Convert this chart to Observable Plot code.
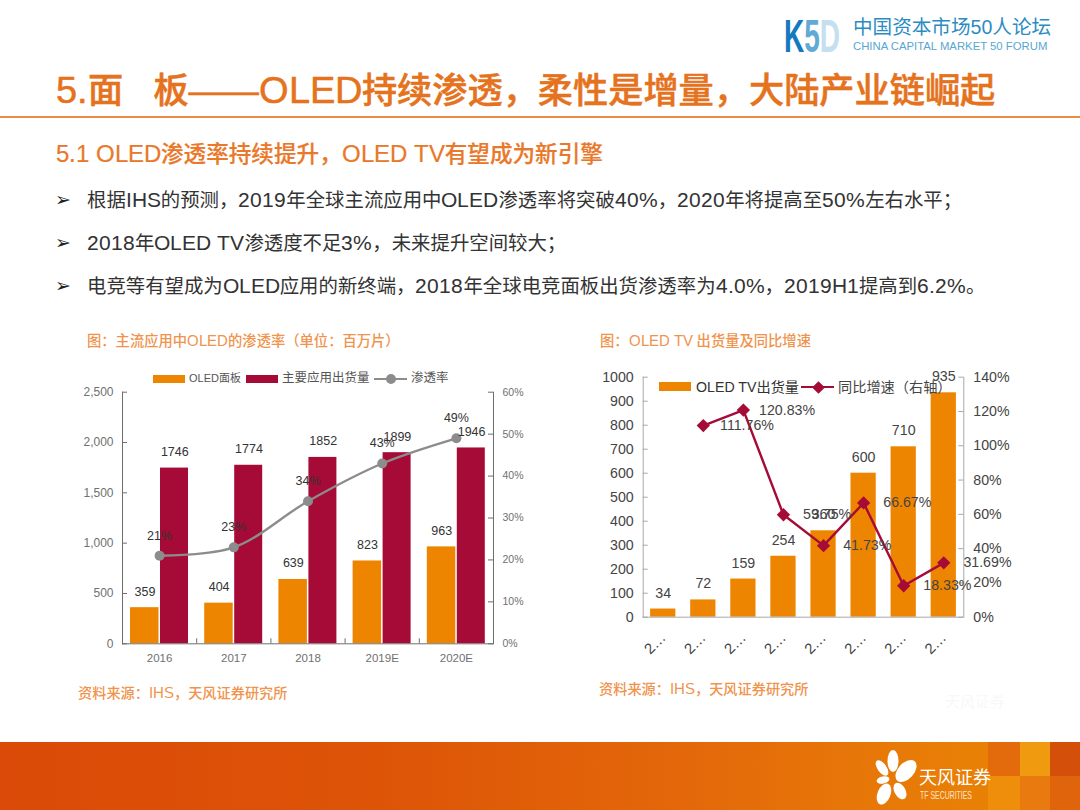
<!DOCTYPE html>
<html lang="zh">
<head>
<meta charset="utf-8">
<script src="https://cdn.jsdelivr.net/npm/d3@7"></script>
<script src="https://cdn.jsdelivr.net/npm/@observablehq/plot@0.6"></script>
<style>
  @font-face{font-family:"LatinBig";src:local("Liberation Sans");size-adjust:107%;unicode-range:U+0020-007E;}
  html,body{margin:0;padding:0;background:#fff;}
  #slide{position:relative;width:1080px;height:810px;overflow:hidden;background:#fff;
    font-family:"Liberation Sans","Noto Sans CJK SC",sans-serif;}
  .t{position:absolute;white-space:pre;line-height:1;}
  .big{font-family:"LatinBig","Liberation Sans","Noto Sans CJK SC",sans-serif;}
  .chart{position:absolute;}
  .chart svg{overflow:visible;background:transparent;display:block;}
  .sw{position:absolute;}
  .block{position:absolute;}
</style>
</head>
<body>
<div id="slide">
  <svg class="block" style="left:784px;top:6px" width="70" height="56">
    <text transform="translate(0,46) scale(1,1.65)" x="0" y="0" font-size="28" font-weight="700" font-family="Liberation Sans"><tspan fill="#1479bf">K</tspan><tspan fill="#63a9d6">5</tspan><tspan fill="#c3dff0">D</tspan></text>
  </svg>
  <div class="t" style="left:853px;top:18px;font-size:19.6px;color:#2c8cc2;">中国资本市场50人论坛</div>
  <div class="t" style="left:853px;top:41px;font-size:11.3px;color:#5aa6cf;letter-spacing:0.02px;">CHINA CAPITAL MARKET 50 FORUM</div>

  <div class="t big" style="left:56px;top:73px;font-size:35.2px;font-weight:500;color:#e5721c;-webkit-text-stroke:0.5px #e5721c;">5.面<span style="letter-spacing:-5px;">　</span>板——OLED持续渗透，柔性是增量，大陆产业链崛起</div>
  <div class="block" style="left:0;top:116px;width:1080px;height:2px;background:#e98a47;"></div>
  <div class="t big" style="left:56px;top:143px;font-size:22.6px;font-weight:500;color:#e9782a;-webkit-text-stroke:0.2px #e9782a;">5.1 OLED渗透率持续提升，OLED TV有望成为新引擎</div>

  <div class="t" style="left:55px;top:190px;font-size:19px;color:#222;font-family:'DejaVu Sans';">➢</div>
  <div class="t big" style="left:87px;top:190px;font-size:19.4px;color:#333;">根据IHS的预测，2019年全球主流应用中OLED渗透率将突破40%，2020年将提高至50%左右水平；</div>
  <div class="t" style="left:55px;top:233px;font-size:19px;color:#222;font-family:'DejaVu Sans';">➢</div>
  <div class="t big" style="left:87px;top:233px;font-size:19.4px;color:#333;">2018年OLED TV渗透度不足3%，未来提升空间较大；</div>
  <div class="t" style="left:55px;top:276px;font-size:19px;color:#222;font-family:'DejaVu Sans';">➢</div>
  <div class="t big" style="left:87px;top:276px;font-size:19.4px;color:#333;">电竞等有望成为OLED应用的新终端，2018年全球电竞面板出货渗透率为4.0%，2019H1提高到6.2%。</div>

  <div class="t big" style="left:87px;top:334px;font-size:14.3px;font-weight:500;color:#f0934c;">图：主流应用中OLED的渗透率（单位：百万片）</div>
  <div class="t big" style="left:600px;top:334px;font-size:14.3px;font-weight:500;color:#f0934c;">图：OLED TV 出货量及同比增速</div>

  <div id="left" class="chart" style="left:60px;top:360px;"></div>
  <div id="right" class="chart" style="left:580px;top:360px;"></div>

  <!-- left legend -->
  <div class="sw" style="left:153px;top:375px;width:32px;height:8px;background:#ee8500;"></div>
  <div class="t" style="left:189px;top:373px;font-size:11px;color:#555;">OLED面板</div>
  <div class="sw" style="left:246px;top:375px;width:32px;height:8px;background:#a50b36;"></div>
  <div class="t" style="left:282px;top:372px;font-size:12.5px;color:#555;">主要应用出货量</div>
  <div class="sw" style="left:374px;top:378px;width:33px;height:2px;background:#8c8c8c;"></div>
  <div class="sw" style="left:386px;top:374px;width:10px;height:10px;border-radius:50%;background:#8c8c8c;"></div>
  <div class="t" style="left:411px;top:372px;font-size:12.5px;color:#555;">渗透率</div>

  <!-- right legend -->
  <div class="sw" style="left:659px;top:382px;width:32px;height:9px;background:#ee8500;"></div>
  <div class="t" style="left:696px;top:380px;font-size:14.2px;color:#333;">OLED TV出货量</div>
  <div class="sw" style="left:801px;top:386px;width:33px;height:2px;background:#a50b36;"></div>
  <div class="sw" style="left:813.5px;top:382.5px;width:9px;height:9px;transform:rotate(45deg);background:#a50b36;"></div>
  <div class="t" style="left:838px;top:380px;font-size:14.2px;color:#444;">同比增速（右轴）</div>

  <div class="t big" style="left:78px;top:686px;font-size:14.2px;font-weight:500;color:#f0934c;">资料来源：IHS，天风证券研究所</div>
  <div class="t big" style="left:599px;top:682px;font-size:14.2px;font-weight:500;color:#f0934c;">资料来源：IHS，天风证券研究所</div>

  <!-- watermark -->
  <div class="t" style="left:945px;top:694px;font-size:15px;color:#f8f8f8;">天风证券</div>

  <!-- footer band -->
  <div class="block" style="left:0;top:742px;width:1080px;height:68px;background:linear-gradient(90deg,#db4a08 0%,#dd5407 35%,#e4690a 65%,#e98006 90%,#ea8306 100%);"></div>
  <div class="block" style="left:988px;top:742px;width:32px;height:34px;background:#e46b0c;"></div>
  <div class="block" style="left:1020px;top:742px;width:30px;height:34px;background:#f09a10;"></div>
  <div class="block" style="left:1050px;top:742px;width:30px;height:34px;background:#d4500a;"></div>
  <div class="block" style="left:988px;top:776px;width:32px;height:34px;background:#ef8e0a;"></div>
  <div class="block" style="left:1020px;top:776px;width:30px;height:34px;background:#e87a10;"></div>
  <div class="block" style="left:1050px;top:776px;width:30px;height:34px;background:#df640c;"></div>
  <svg class="block" style="left:870px;top:745px" width="50" height="65">
    <g fill="#fff" transform="translate(-870,-745)">
      <ellipse cx="893" cy="761" rx="5.5" ry="11"/>
      <ellipse cx="906" cy="771" rx="8" ry="13" transform="rotate(42 906 771)"/>
      <ellipse cx="882" cy="768" rx="4.5" ry="9" transform="rotate(-35 882 768)"/>
      <ellipse cx="883" cy="780" rx="6.5" ry="3.5" transform="rotate(-12 883 780)"/>
      <ellipse cx="884" cy="794" rx="6.5" ry="11" transform="rotate(22 884 794)"/>
      <ellipse cx="900" cy="791" rx="5.5" ry="9" transform="rotate(-30 900 791)"/>
    </g>
  </svg>
  <div class="t" style="left:919px;top:769px;font-size:18px;color:#fff;">天风证券</div>
  <div class="t" style="left:920px;top:790px;font-size:10.5px;color:#fde3c8;transform:scaleX(0.66);transform-origin:left top;">TF SECURITIES</div>
</div>

<script>
// Left chart data
const years = ["2016", "2017", "2018", "2019E", "2020E"];
const oledPanels = [359, 404, 639, 823, 963];
const mainShipments = [1746, 1774, 1852, 1899, 1946];
const penetration = [21, 23, 34, 43, 49];
const leftTicks = [0, 500, 1000, 1500, 2000, 2500];
const penetrationTicks = [0, 10, 20, 30, 40, 50, 60];

// Right chart data
const tvPeriods = ["P1", "P2", "P3", "P4", "P5", "P6", "P7", "P8"];
const tvLabels = ["2…", "2…", "2…", "2…", "2…", "2…", "2…", "2…"];
const tvShipments = [34, 72, 159, 254, 360, 600, 710, 935];
const tvGrowth = [null, 111.76, 120.83, 59.75, 41.73, 66.67, 18.33, 31.69];
const tvTicks = [0, 100, 200, 300, 400, 500, 600, 700, 800, 900, 1000];
const growthTicks = [0, 20, 40, 60, 80, 100, 120, 140];

const ORANGE = "#ee8500", MAROON = "#a50b36", GRAY = "#8c8c8c";
const FONT = "'Liberation Sans','Noto Sans CJK SC',sans-serif";

// Left chart
{
  const W = 480, H = 310, mL = 62, mR = 47, mT = 31.7, mB = 26.7;
  const toLeft = p => p / 60 * 2500;
  const rows = years.map((year, i) => ({year, oled: oledPanels[i], main: mainShipments[i], rate: penetration[i]}));
  const band = (W - mL - mR) / years.length;
  const axisStroke = "#6e6e6e";
  const chart = Plot.plot({
    width: W, height: H, marginLeft: mL, marginRight: mR, marginTop: mT, marginBottom: mB,
    style: {fontFamily: FONT, background: "transparent", overflow: "visible"},
    x: {domain: years, padding: 0, round: false, label: null},
    y: {domain: [0, 2500], label: null},
    marks: [
      Plot.barY(rows, {x: "year", y: "oled", fill: ORANGE, insetLeft: 8, insetRight: band - 36.5}),
      Plot.barY(rows, {x: "year", y: "main", fill: MAROON, insetLeft: 38, insetRight: 8.2}),
      Plot.axisY({ticks: leftTicks, tickSize: 0, tickPadding: 9, tickFormat: d3.format(","), fontSize: 12, color: "#707070", label: null}),
      Plot.tickY(leftTicks, {y: d => d, stroke: axisStroke, insetRight: W - mL - mR - 5}),
      Plot.axisY({anchor: "right", ticks: penetrationTicks.map(toLeft), tickSize: 0, tickPadding: 9,
        tickFormat: v => Math.round(v / 2500 * 60) + "%", fontSize: 10.5, color: "#707070", label: null}),
      Plot.tickY(penetrationTicks.map(toLeft), {y: d => d, stroke: axisStroke, insetLeft: W - mL - mR - 5}),
      Plot.axisX({tickSize: 0, tickPadding: 10, fontSize: 11.5, color: "#707070", label: null}),
      Plot.ruleX(years.slice(0, -1), {x: d => d, dx: band / 2, y1: 0, y2: 50, stroke: axisStroke}),
      Plot.frame({anchor: "left", stroke: axisStroke}),
      Plot.frame({anchor: "right", stroke: axisStroke}),
      Plot.ruleY([0], {stroke: axisStroke}),
      Plot.line(rows, {x: "year", y: d => toLeft(d.rate), stroke: GRAY, strokeWidth: 2.4, curve: "catmull-rom"}),
      Plot.dot(rows, {x: "year", y: d => toLeft(d.rate), r: 5, fill: GRAY, stroke: "none"}),
      Plot.text(rows, {x: "year", y: "oled", text: d => String(d.oled), dx: -14.7, dy: -16, fontSize: 12.5, fill: "#333"}),
      Plot.text(rows, {x: "year", y: "main", text: d => String(d.main), dx: 15.2, dy: -16, fontSize: 12.5, fill: "#333"}),
      Plot.text(rows, {x: "year", y: d => toLeft(d.rate), text: d => d.rate + "%", dy: -20, fontSize: 12.5, fill: "#333"})
    ]
  });
  document.getElementById("left").appendChild(chart);
}

// Right chart
{
  const W = 450, H = 310, mL = 62.7, mR = 66.7, mT = 16.7, mB = 53.3;
  const toLeft = p => p / 140 * 1000;
  const rows = tvPeriods.map((period, i) => ({period, label: tvLabels[i], ship: tvShipments[i], growth: tvGrowth[i]}));
  const growthRows = rows.filter(d => d.growth != null);
  const axisStroke = "#a8a8a8";
  const chart = Plot.plot({
    width: W, height: H, marginLeft: mL, marginRight: mR, marginTop: mT, marginBottom: mB,
    style: {fontFamily: FONT, background: "transparent", overflow: "visible"},
    x: {domain: tvPeriods, paddingInner: 0.37, paddingOuter: 0.185, round: false, label: null},
    y: {domain: [0, 1000], label: null},
    marks: [
      Plot.barY(rows, {x: "period", y: "ship", fill: ORANGE}),
      Plot.axisY({ticks: tvTicks, tickSize: 0, tickPadding: 9.5, tickFormat: d => String(d), fontSize: 14.2, color: "#444", label: null}),
      Plot.tickY(tvTicks, {y: d => d, stroke: axisStroke, insetRight: W - mL - mR - 5}),
      Plot.axisY({anchor: "right", ticks: growthTicks.map(toLeft), tickSize: 0, tickPadding: 9.5,
        tickFormat: v => Math.round(v / 1000 * 140) + "%", fontSize: 14.2, color: "#444", label: null}),
      Plot.tickY(growthTicks.map(toLeft), {y: d => d, stroke: axisStroke, insetLeft: W - mL - mR - 5}),
      Plot.axisX({tickSize: 0, tickPadding: 18, tickRotate: -45, fontSize: 15, color: "#444", label: null,
        tickFormat: p => tvLabels[tvPeriods.indexOf(p)]}),
      Plot.frame({anchor: "left", stroke: axisStroke}),
      Plot.frame({anchor: "right", stroke: axisStroke}),
      Plot.ruleY([0], {stroke: axisStroke}),
      Plot.line(growthRows, {x: "period", y: d => toLeft(d.growth), stroke: MAROON, strokeWidth: 2.4}),
      Plot.dot(growthRows, {x: "period", y: d => toLeft(d.growth), symbol: "diamond2", r: 6, fill: MAROON, stroke: "none"}),
      Plot.text(rows, {x: "period", y: "ship", text: d => String(d.ship), dy: -16, fontSize: 14.2, fill: "#444"}),
      Plot.text(growthRows, {x: "period", y: d => toLeft(d.growth), text: d => d.growth.toFixed(2) + "%", dx: 43.7, fontSize: 14.2, fill: "#444"})
    ]
  });
  document.getElementById("right").appendChild(chart);
}
</script>
</body>
</html>
